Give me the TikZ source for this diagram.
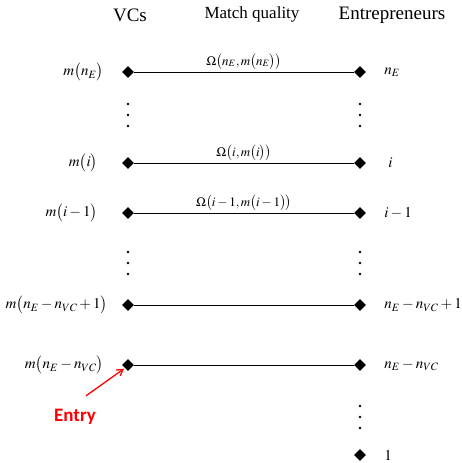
\documentclass[tikz,border=0pt]{standalone}
\usepackage{mathptmx}
\usepackage{fontspec}
\setmainfont{Liberation Serif}
\newfontfamily\entryfont{Carlito}
\usetikzlibrary{shapes.geometric,arrows.meta,positioning}
\begin{document}
\begin{tikzpicture}[x=1pt, y=-1pt,
  font=\fontsize{15}{18}\selectfont,
  head/.style={font=\fontsize{19}{22}\selectfont},
  subhead/.style={font=\fontsize{17}{20}\selectfont},
  dmd/.style={diamond, fill=black, inner sep=0pt, minimum size=12pt},
  lab/.style={inner sep=0pt},
  omega/.style={above=2pt, inner sep=0pt, font=\fontsize{13}{15}\selectfont},
  match/.style={line width=0.9pt},
  entrylab/.style={text=red, font=\entryfont\bfseries\fontsize{19}{22}\selectfont},
  entryarrow/.style={red, line width=1.3pt, -{Straight Barb[length=6pt,width=7pt]}},
  node distance=18pt
]
\useasboundingbox (0,0) rectangle (461,463);
% column heads
\node[head]    (vcs)  at (130,15) {VCs};
\node[subhead] (mq)   at (252,14) {Match quality};
\node[head]    (ent)  at (392,15) {Entrepreneurs};
% VC side
\node[dmd] (vl1) at (128,72)  {};
\node[dmd] (vl2) at (128,163) {};
\node[dmd] (vl3) at (128,213) {};
\node[dmd] (vl4) at (128,305) {};
\node[dmd] (vl5) at (128,365) {};
% entrepreneur side
\node[dmd] (er1) at (360,72)  {};
\node[dmd] (er2) at (360,163) {};
\node[dmd] (er3) at (360,213) {};
\node[dmd] (er4) at (360,305) {};
\node[dmd] (er5) at (360,365) {};
\node[dmd] (er6) at (360,455) {};
% labels
\node[lab, left=of vl1] {$m\bigl(n_E\bigr)$};
\node[lab, left=24pt of vl2] {$m\bigl(i\bigr)$};
\node[lab, left=24pt of vl3] {$m\bigl(i-1\bigr)$};
\node[lab, left=14pt of vl4] {$m\bigl(n_E-n_{VC}+1\bigr)$};
\node[lab, left=of vl5] {$m\bigl(n_E-n_{VC}\bigr)$};
\node[lab, right=of er1] {$n_E$};
\node[lab, right=22pt of er2] {$i$};
\node[lab, right=of er3] {$i-1$};
\node[lab, right=of er4] {$n_E-n_{VC}+1$};
\node[lab, right=of er5] {$n_E-n_{VC}$};
\node[lab, right=of er6] {$1$};
% matches
\draw[match] (vl1) -- node[omega]{$\Omega\bigl(n_E,m\bigl(n_E\bigr)\bigr)$} (er1);
\draw[match] (vl2) -- node[omega]{$\Omega\bigl(i,m\bigl(i\bigr)\bigr)$} (er2);
\draw[match] (vl3) -- node[omega]{$\Omega\bigl(i-1,m\bigl(i-1\bigr)\bigr)$} (er3);
\draw[match] (vl4) -- (er4);
\draw[match] (vl5) -- (er5);
% dots
\foreach \y in {104,115,126,252,263,274}{
  \fill (128,\y) circle (1.3);
  \fill (360,\y) circle (1.3);
}
\foreach \y in {406,417,428}
  \fill (360,\y) circle (1.3);
% entry
\node[entrylab] (entry) at (75,417) {Entry};
\draw[entryarrow, shorten >=1pt] ([shift={(11,-10)}]entry.north) -- (vl5.south west);
\end{tikzpicture}
\end{document}
